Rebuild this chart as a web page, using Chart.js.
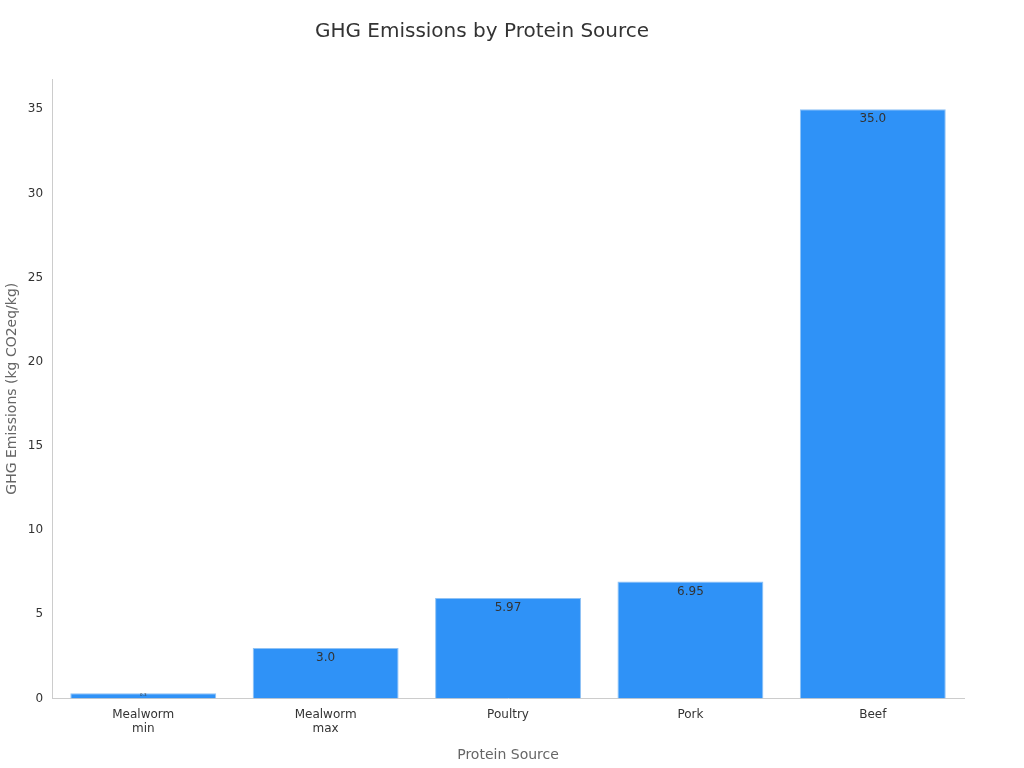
<!DOCTYPE html>
<html>
<head>
<meta charset="utf-8">
<script src="https://cdn.jsdelivr.net/npm/chart.js@4"></script>
<style>
  html, body { margin: 0; padding: 0; background: #fff; }
  #wrap { width: 1024px; height: 768px; }
</style>
</head>
<body>
<div id="wrap"><canvas id="chart" width="1024" height="768"></canvas></div>
<script>
const categories = [['Mealworm', 'min'], ['Mealworm', 'max'], 'Poultry', 'Pork', 'Beef'];
const emissions = [0.3, 3.0, 5.97, 6.95, 35.0];
const valueLabels = ['0.3', '3.0', '5.97', '6.95', '35.0'];

// writes each value just inside the top of its bar
const barLabels = {
  id: 'barLabels',
  afterDatasetsDraw(chart) {
    const ctx = chart.ctx;
    const meta = chart.getDatasetMeta(0);
    ctx.save();
    ctx.textAlign = 'center';
    ctx.textBaseline = 'top';
    ctx.fillStyle = '#333';
    meta.data.forEach((bar, i) => {
      const h = bar.base - bar.y;
      const size = h < 12 ? 4 : 12;
      ctx.font = size + 'px "DejaVu Sans"';
      ctx.fillText(valueLabels[i], bar.x, h < 12 ? bar.y : bar.y + 4);
    });
    ctx.restore();
  }
};

new Chart(document.getElementById('chart'), {
  type: 'bar',
  data: {
    labels: categories,
    datasets: [{
      data: emissions,
      backgroundColor: '#2f92f7',
      borderColor: '#8fc2f5',
      borderWidth: 1,
      categoryPercentage: 1,
      barPercentage: 0.8
    }]
  },
  options: {
    responsive: false,
    animation: false,
    layout: { padding: { left: 0, right: 60, top: 10, bottom: 0 } },
    plugins: {
      legend: { display: false },
      tooltip: { enabled: false },
      title: {
        display: true,
        text: 'GHG Emissions by Protein Source',
        color: '#333',
        font: { family: 'DejaVu Sans', size: 20, weight: 'normal' },
        padding: { top: 10, bottom: 35 }
      }
    },
    scales: {
      x: {
        grid: { display: false, drawTicks: true, tickLength: 6, tickColor: '#444' },
        border: { color: '#ccc' },
        ticks: { color: '#333', font: { family: 'DejaVu Sans', size: 12 } },
        title: {
          display: true, text: 'Protein Source', color: '#666',
          font: { family: 'DejaVu Sans', size: 14 }, padding: { top: 8 }
        }
      },
      y: {
        min: 0,
        max: 36.8,
        afterBuildTicks(axis) {
          axis.ticks = [0, 5, 10, 15, 20, 25, 30, 35].map(v => ({ value: v }));
        },
        grid: { display: false, drawTicks: true, tickLength: 6, tickColor: '#444' },
        border: { color: '#ccc' },
        ticks: { color: '#333', font: { family: 'DejaVu Sans', size: 12 } },
        title: {
          display: true, text: 'GHG Emissions (kg CO2eq/kg)', color: '#666',
          font: { family: 'DejaVu Sans', size: 14 }
        }
      }
    }
  },
  plugins: [barLabels]
});
</script>
</body>
</html>
